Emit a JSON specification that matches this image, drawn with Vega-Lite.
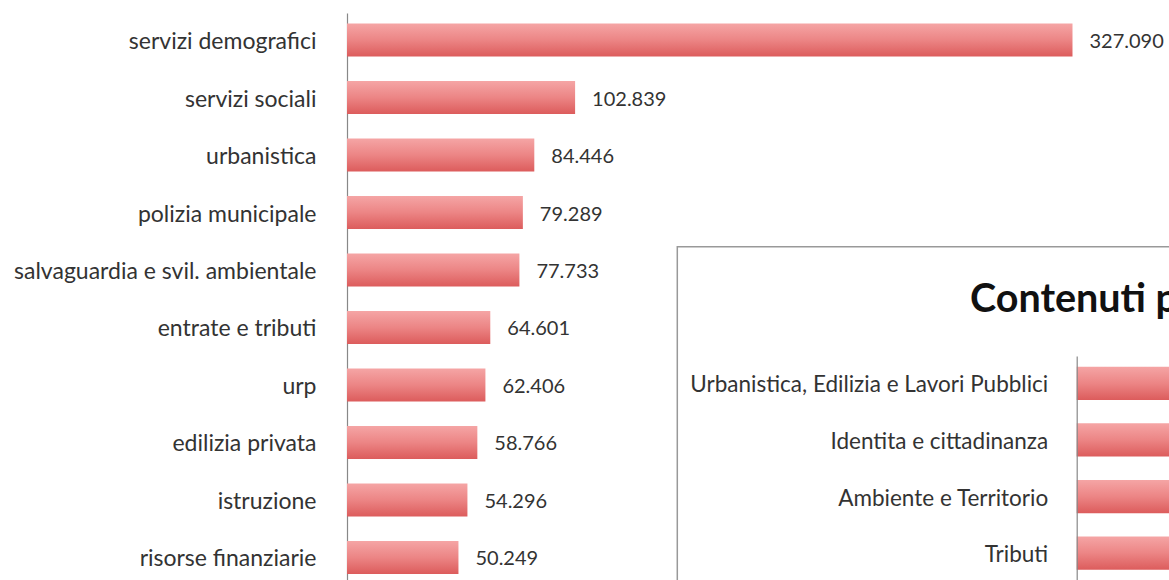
{
  "$schema": "https://vega.github.io/schema/vega-lite/v6.json",
  "autosize": {"type": "none"},
  "padding": {"left": 347, "top": 13, "right": 0, "bottom": 0},
  "width": 822,
  "height": 571.5,
  "background": "white",
  "config": {
    "view": {"stroke": null},
    "font": "Lato",
    "locale": {"number": {"decimal": ",", "thousands": ".", "grouping": [3], "currency": ["€", ""]}}
  },
  "layer": [
    {
      "data": {"values": [
        {"area": "servizi demografici", "visite": 327090},
        {"area": "servizi sociali", "visite": 102839},
        {"area": "urbanistica", "visite": 84446},
        {"area": "polizia municipale", "visite": 79289},
        {"area": "salvaguardia e svil. ambientale", "visite": 77733},
        {"area": "entrate e tributi", "visite": 64601},
        {"area": "urp", "visite": 62406},
        {"area": "edilizia privata", "visite": 58766},
        {"area": "istruzione", "visite": 54296},
        {"area": "risorse finanziarie", "visite": 50249}
      ]},
      "encoding": {
        "y": {
          "field": "area", "type": "nominal", "sort": null,
          "scale": {"paddingInner": 0.426, "paddingOuter": 0.183},
          "axis": {"title": null, "ticks": false, "labelPadding": 31, "labelFontSize": 23, "labelFont": "Lato", "labelColor": "#333333", "labelOffset": 2, "domainColor": "#888888", "domainWidth": 1.2, "labelLimit": 400}
        }
      },
      "layer": [
        {
          "mark": {"type": "bar", "color": {"gradient": "linear", "x1": 0, "y1": 0, "x2": 0, "y2": 1, "stops": [{"offset": 0, "color": "#f5a5a5"}, {"offset": 0.5, "color": "#ec8585"}, {"offset": 1, "color": "#dc5c5c"}]}},
          "encoding": {"x": {"field": "visite", "type": "quantitative", "scale": {"domain": [0, 370600], "nice": false}, "axis": null}}
        },
        {
          "mark": {"type": "text", "align": "left", "baseline": "middle", "dx": 17, "dy": 2, "fontSize": 20, "font": "Lato", "color": "#333333"},
          "encoding": {
            "x": {"field": "visite", "type": "quantitative"},
            "text": {"field": "visite", "type": "quantitative", "format": ",d"}
          }
        }
      ]
    },
    {
      "data": {"values": [{"titolo": "Contenuti pubblicati per area tematica"}]},
      "layer": [
        {
          "mark": {"type": "rect", "fill": "white", "stroke": "#999999", "strokeWidth": 1.5},
          "encoding": {
            "x": {"datum": 0, "type": "quantitative", "scale": {"domain": [0, 1000], "range": [330.3, 1330.3], "nice": false, "zero": false}, "axis": null},
            "x2": {"datum": 1000},
            "y": {"datum": 0, "type": "quantitative", "scale": {"domain": [0, 1000], "range": [233.7, 1233.7], "nice": false, "zero": false}, "axis": null},
            "y2": {"datum": 1000}
          }
        },
        {
          "mark": {"type": "text", "align": "left", "baseline": "alphabetic", "fontSize": 39.5, "fontWeight": "bold", "font": "Lato", "color": "#111111"},
          "encoding": {
            "x": {"datum": 292.7, "type": "quantitative"},
            "y": {"datum": 65, "type": "quantitative"},
            "text": {"field": "titolo", "type": "nominal"}
          }
        }
      ]
    },
    {
      "data": {"values": [
        {"area": "Urbanistica, Edilizia e Lavori Pubblici", "visite": 120000},
        {"area": "Identita e cittadinanza", "visite": 105000},
        {"area": "Ambiente e Territorio", "visite": 90000},
        {"area": "Tributi", "visite": 80000}
      ]},
      "mark": {"type": "bar", "color": {"gradient": "linear", "x1": 0, "y1": 0, "x2": 0, "y2": 1, "stops": [{"offset": 0, "color": "#f5a5a5"}, {"offset": 0.5, "color": "#ec8585"}, {"offset": 1, "color": "#dc5c5c"}]}},
      "encoding": {
        "y": {
          "field": "area", "type": "nominal", "sort": null,
          "scale": {"range": [343, 567.5], "paddingInner": 0.412, "paddingOuter": 0.189},
          "axis": {"orient": "left", "offset": -729.7, "title": null, "ticks": false, "labelPadding": 29, "labelFontSize": 22.5, "labelFont": "Lato", "labelColor": "#333333", "labelOffset": 2, "domainColor": "#888888", "domainWidth": 1.2, "labelLimit": 400, "zindex": 1}
        },
        "x": {"field": "visite", "type": "quantitative", "scale": {"domain": [0, 150000], "range": [729.7, 1400], "nice": false}, "axis": null}
      }
    }
  ],
  "resolve": {"scale": {"x": "independent", "y": "independent"}, "axis": {"x": "independent", "y": "independent"}}
}
